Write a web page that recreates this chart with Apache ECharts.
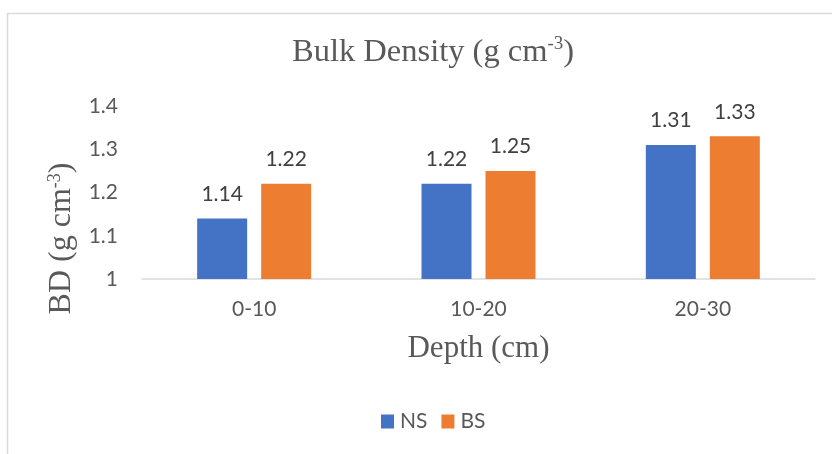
<!DOCTYPE html>
<html>
<head>
<meta charset="utf-8">
<script src="https://cdn.jsdelivr.net/npm/echarts@6/dist/echarts.min.js"></script>
<style>
  html, body { margin: 0; padding: 0; background: #fff; }
  #chart { width: 832px; height: 454px; }
</style>
</head>
<body>
<div id="chart"></div>
<script>
// Soil bulk density by sampling depth
const depths = ['0-10', '10-20', '20-30'];
const nsValues = [1.14, 1.22, 1.31];
const bsValues = [1.22, 1.25, 1.33];
const seriesNames = ['NS', 'BS'];
const yTicks = { min: 1, max: 1.4, step: 0.1 };

const serif = '"Liberation Serif", "DejaVu Serif", serif';
const sans = 'Lato, "Open Sans", sans-serif';
const labelGray = '#595959';

const chart = echarts.init(document.getElementById('chart'), null, { renderer: 'canvas' });

const barLabel = {
  show: true,
  position: 'top',
  distance: 14,
  fontFamily: sans,
  fontSize: 21,
  color: '#404040',
  formatter: p => p.value.toFixed(2)
};

const supRich = {
  t: { fontFamily: serif, fontSize: 32, color: '#595959' },
  s: { fontFamily: serif, fontSize: 18, color: '#595959', verticalAlign: 'top', padding: [0, 0, 14, 0] }
};

chart.setOption({
  animation: false,
  backgroundColor: '#fff',
  graphic: [{
    type: 'rect',
    shape: { x: 7.5, y: 13.5, width: 900, height: 500 },
    style: { fill: 'none', stroke: '#d9d9d9', lineWidth: 1.5 },
    z: -1
  }],
  title: {
    text: '{t|Bulk Density (g cm}{s|-3}{t|)}',
    left: 287,
    top: 30,
    textStyle: {
      fontWeight: 'normal',
      rich: {
        t: { fontFamily: serif, fontSize: 32.5, color: '#595959', fontWeight: 'normal' },
        s: { fontFamily: serif, fontSize: 19, color: '#595959', fontWeight: 'normal', verticalAlign: 'top', padding: [0, 0, 15, 0] }
      }
    }
  },
  legend: {
    data: seriesNames,
    bottom: 17,
    left: 376,
    itemWidth: 13,
    itemHeight: 14,
    itemGap: 14,
    icon: 'rect',
    textStyle: { fontFamily: sans, fontSize: 21, color: labelGray, padding: [0, 0, 0, 1] }
  },
  grid: { left: 142, right: 17, top: 106, bottom: 175 },
  xAxis: {
    type: 'category',
    data: depths,
    axisLine: { lineStyle: { color: '#d9d9d9', width: 1.5 } },
    axisTick: { show: false },
    axisLabel: { fontFamily: sans, fontSize: 21, color: labelGray, margin: 20 },
    name: 'Depth (cm)',
    nameLocation: 'middle',
    nameGap: 54,
    nameTextStyle: { fontFamily: serif, fontSize: 31, color: '#595959' }
  },
  yAxis: {
    type: 'value',
    min: yTicks.min,
    max: yTicks.max,
    interval: yTicks.step,
    splitLine: { show: false },
    axisLine: { show: false },
    axisTick: { show: false },
    axisLabel: {
      fontFamily: sans, fontSize: 21, color: labelGray, margin: 24,
      formatter: v => String(parseFloat(v.toFixed(1)))
    },
    name: '{t|BD (g cm}{s|-3}{t|)}',
    nameLocation: 'middle',
    nameRotate: 90,
    nameGap: 59,
    nameTextStyle: {
      padding: [0, 92, 0, 0],
      rich: supRich
    }
  },
  series: [
    {
      name: seriesNames[0],
      type: 'bar',
      data: nsValues,
      barWidth: 50,
      barGap: '28%',
      itemStyle: { color: '#4472C4' },
      label: barLabel
    },
    {
      name: seriesNames[1],
      type: 'bar',
      data: bsValues,
      barWidth: 50,
      itemStyle: { color: '#ED7D31' },
      label: barLabel
    }
  ]
});
</script>
</body>
</html>
